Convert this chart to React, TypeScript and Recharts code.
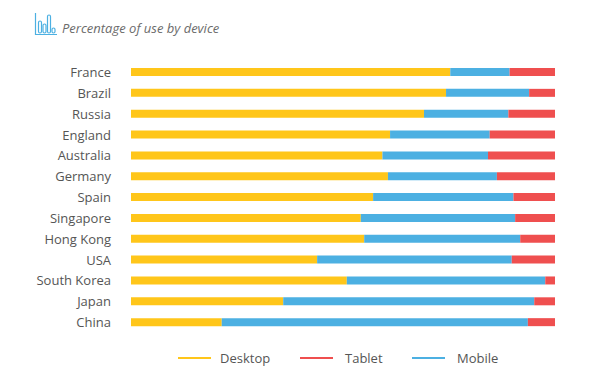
import { BarChart, Bar, XAxis, YAxis } from "recharts";

const countries = [
  "France", "Brazil", "Russia", "England", "Australia", "Germany", "Spain",
  "Singapore", "Hong Kong", "USA", "South Korea", "Japan", "China",
];
const desktop = [75.3, 74.3, 69.1, 61.1, 59.3, 60.6, 57.1, 54.2, 55.0, 43.9, 50.9, 35.9, 21.4];
const mobile = [14.0, 19.6, 19.9, 23.5, 24.9, 25.7, 33.1, 36.4, 36.8, 45.9, 46.8, 59.2, 72.2];
const tablet = [10.7, 6.1, 11.0, 15.4, 15.8, 13.7, 9.8, 9.4, 8.2, 10.2, 2.3, 4.9, 6.4];

const C = { desktop: "#FFC61A", mobile: "#4CB0E2", tablet: "#EF4F4F", text: "#555", title: "#6b6b6b" };
const FONT = "'Open Sans', sans-serif";

const legendItems = [
  { name: "Desktop", color: C.desktop, x: 178 },
  { name: "Tablet", color: C.tablet, x: 300 },
  { name: "Mobile", color: C.mobile, x: 412 },
];

const data = countries.map((c, i) => ({ country: c, desktop: desktop[i], mobile: mobile[i], tablet: tablet[i] }));

function TitleIcon() {
  return (
    <svg width={24} height={24} style={{ position: "absolute", left: 34, top: 12 }}>
      <g stroke="#4CB0E2" strokeWidth={1.2} fill="none">
        <path d="M1.5 1 V22.5 H23" />
        <rect x={4.5} y={9} width={3} height={12} rx={1.5} />
        <rect x={9} y={12} width={3} height={9} rx={1.5} />
        <rect x={13.5} y={3} width={3} height={18} rx={1.5} />
        <rect x={18} y={16} width={3} height={5} rx={1.5} />
      </g>
    </svg>
  );
}

export default function App() {
  return (
    <div style={{ position: "absolute", left: 0, top: 0, width: 600, height: 384, background: "#fff", fontFamily: FONT }}>
      <TitleIcon />
      <div style={{ position: "absolute", left: 62, top: 19, fontSize: 13, fontStyle: "italic", color: C.title }}>
        Percentage of use by device
      </div>
      <BarChart
        width={600}
        height={384}
        data={data}
        layout="vertical"
        margin={{ top: 62, right: 45, bottom: 51, left: 0 }}
      >
        <XAxis type="number" domain={[0, 100]} hide />
        <YAxis
          type="category"
          dataKey="country"
          width={131}
          axisLine={false}
          tickLine={false}
          tickMargin={14}
          interval={0}
          tick={{ fill: C.text, fontSize: 13, fontFamily: FONT }}
        />
        <Bar dataKey="desktop" stackId="a" fill={C.desktop} barSize={8} isAnimationActive={false} />
        <Bar dataKey="mobile" stackId="a" fill={C.mobile} barSize={8} isAnimationActive={false} />
        <Bar dataKey="tablet" stackId="a" fill={C.tablet} barSize={8} isAnimationActive={false} />
      </BarChart>
      {legendItems.map((l) => (
        <div key={l.name} style={{ position: "absolute", left: l.x, top: 349, display: "flex", alignItems: "center" }}>
          <span style={{ display: "inline-block", width: 33, height: 2, background: l.color, marginRight: l.name === "Desktop" ? 9 : 12 }} />
          <span style={{ fontSize: 13, color: C.text }}>{l.name}</span>
        </div>
      ))}
    </div>
  );
}
